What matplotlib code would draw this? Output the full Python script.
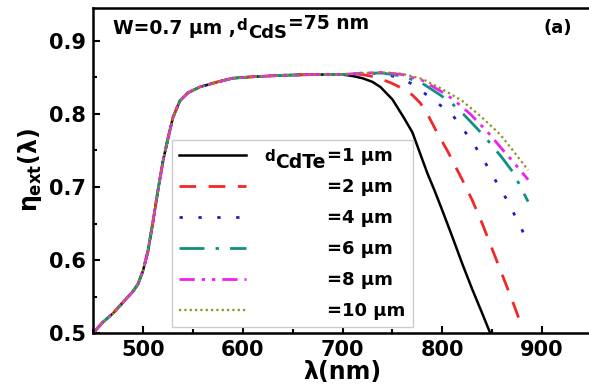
import matplotlib
matplotlib.use("Agg")
import matplotlib.pyplot as plt
from matplotlib.ticker import MultipleLocator

plt.rcParams['font.family'] = ['DejaVu Sans']
plt.rcParams['font.weight'] = 'bold'
plt.rcParams['mathtext.fontset'] = 'custom'
plt.rcParams['mathtext.rm'] = 'DejaVu Sans:bold'
plt.rcParams['mathtext.it'] = 'DejaVu Sans:bold'
plt.rcParams['mathtext.bf'] = 'DejaVu Sans:bold'
plt.rcParams['mathtext.sf'] = 'DejaVu Sans:bold'

# shared rising part of all curves
lam_rise = [450, 460, 470, 480, 490, 495, 500, 505, 510, 515, 520, 525, 530, 537, 545,
            557, 575, 590, 610, 640, 670, 700]
eta_rise = [0.500, 0.515, 0.527, 0.542, 0.557, 0.567, 0.585, 0.612, 0.652, 0.695, 0.735,
            0.766, 0.795, 0.818, 0.829, 0.837, 0.844, 0.849, 0.851, 0.853, 0.854, 0.854]

# tails for each CdTe thickness
lam_1 = [710, 720, 730, 738, 750, 761, 770, 785, 792, 800, 810, 820, 830, 840, 848]
eta_1 = [0.852, 0.849, 0.844, 0.837, 0.820, 0.796, 0.775, 0.719, 0.696, 0.668, 0.632,
         0.595, 0.560, 0.527, 0.500]
lam_2 = [710, 720, 728, 740, 748, 760, 770, 778, 787, 795, 805, 820, 830, 840, 850, 860, 870, 880]
eta_2 = [0.855, 0.854, 0.852, 0.847, 0.843, 0.835, 0.826, 0.815, 0.795, 0.774, 0.750,
         0.710, 0.682, 0.650, 0.615, 0.580, 0.545, 0.508]
lam_4 = [715, 730, 750, 761, 770, 778, 790, 800, 810, 820, 831, 840, 848, 855, 865, 875, 885]
eta_4 = [0.855, 0.856, 0.852, 0.847, 0.841, 0.833, 0.820, 0.810, 0.799, 0.781, 0.760,
         0.740, 0.722, 0.705, 0.682, 0.655, 0.627]
lam_6 = [720, 740, 760, 780, 798, 810, 821, 835, 848, 860, 871, 886]
eta_6 = [0.856, 0.856, 0.852, 0.842, 0.826, 0.814, 0.800, 0.780, 0.760, 0.740, 0.720, 0.680]
lam_8 = [720, 740, 760, 780, 800, 811, 828, 845, 858, 872, 886]
eta_8 = [0.856, 0.857, 0.854, 0.846, 0.830, 0.820, 0.800, 0.776, 0.755, 0.733, 0.710]
lam_10 = [720, 740, 760, 780, 800, 820, 840, 858, 872, 886]
eta_10 = [0.856, 0.857, 0.855, 0.848, 0.834, 0.818, 0.795, 0.772, 0.748, 0.723]

labels = ["=1 µm", "=2 µm", "=4 µm", "=6 µm", "=8 µm", "=10 µm"]
colors = ['black', '#f02828', '#2020c0', '#109080', '#f020f0', '#909020']
styles = ['-', (0, (6, 4.5)), (0, (1.2, 5.6)), (0, (9, 4, 1.2, 4)),
          (0, (5.5, 2.5, 1.2, 2.5, 1.2, 2.5)), (0, (1, 1.4))]
widths = [1.8, 2, 2, 2, 2, 1.6]

tails = [(lam_1, eta_1), (lam_2, eta_2), (lam_4, eta_4), (lam_6, eta_6),
         (lam_8, eta_8), (lam_10, eta_10)]

fig = plt.figure(figsize=(5.89, 3.87), dpi=100)
ax = fig.add_axes([0.158, 0.1395, 0.847, 0.8395])

handles = []
for (lt, et), lab, c, s, w in zip(tails, labels, colors, styles, widths):
    h, = ax.plot(lam_rise + lt, eta_rise + et, color=c, linestyle=s, lw=w, label=lab)
    handles.append(h)

ax.set_xlim(450, 950)
ax.set_ylim(0.5, 0.945)
ax.xaxis.set_minor_locator(MultipleLocator(50))
ax.yaxis.set_minor_locator(MultipleLocator(0.05))
ax.set_xticks([500, 600, 700, 800, 900])
ax.set_xticklabels(['500', '600', '700', '800', '900'], fontweight='bold')
ax.set_yticks([0.5, 0.6, 0.7, 0.8, 0.9])
ax.set_yticklabels(['0.5', '0.6', '0.7', '0.8', '0.9'], fontweight='bold')
ax.tick_params(which='both', direction='in', width=1.5, labelsize=15)
ax.tick_params(which='major', length=5, pad=5)
ax.tick_params(which='minor', length=3)
for sp in ax.spines.values():
    sp.set_linewidth(1.8)

ax.set_xlabel("λ(nm)", fontsize=17, fontweight='bold', labelpad=0)
ax.set_ylabel(r"$\eta_{\rm ext}(\lambda)$", fontsize=17, labelpad=4)

# annotation "W=0.7 µm ,d_CdS=75 nm" built from pieces
t1 = ax.text(0.04, 0.92, "W=0.7 µm ,", transform=ax.transAxes,
             fontsize=13.5, fontweight='bold', va='baseline', ha='left')
t2 = ax.annotate("d", xy=(1, 0), xycoords=t1, xytext=(0.5, 3.5), textcoords='offset points',
                 fontsize=11, fontweight='bold', va='bottom', ha='left')
t3 = ax.annotate("CdS", xy=(1, 0), xycoords=t2, xytext=(0.5, -6), textcoords='offset points',
                 fontsize=13, fontweight='bold', va='bottom', ha='left')
t4 = ax.annotate("=75 nm", xy=(1, 0), xycoords=t3, xytext=(0.5, 6), textcoords='offset points',
                 fontsize=13.5, fontweight='bold', va='bottom', ha='left')
ax.text(0.96, 0.965, "(a)", transform=ax.transAxes, fontsize=13, fontweight='bold',
        va='top', ha='right')

leg = ax.legend(handles=handles, loc='upper left', bbox_to_anchor=(0.158, 0.594),
                borderaxespad=0, handlelength=3.7, labelspacing=0.72,
                fancybox=False, framealpha=1, edgecolor='#cccccc', borderpad=0.4,
                handletextpad=4.5, prop={'weight': 'bold', 'size': 13})
leg.get_frame().set_linewidth(1.0)
first = leg.get_texts()[0]
c1 = ax.annotate("CdTe", xy=(0, 0), xycoords=first, xytext=(-1, -5),
                 textcoords='offset points', ha='right', va='bottom', fontsize=13.5,
                 fontweight='bold', zorder=10)
ax.annotate("d", xy=(0, 0), xycoords=c1, xytext=(-0.5, 6),
            textcoords='offset points', ha='right', va='bottom', fontsize=11,
            fontweight='bold', zorder=10)

fig.savefig('out.png', dpi=100)
